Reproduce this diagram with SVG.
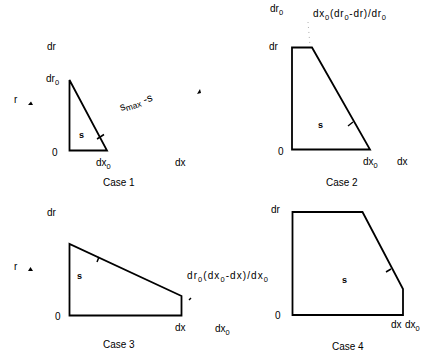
<svg xmlns="http://www.w3.org/2000/svg" width="432" height="358" viewBox="0 0 432 358">
<style>
  text { font-family: "Liberation Sans", Arial, sans-serif; font-size: 10px; fill: #000; }
  .sub { font-size: 7.5px; }
  .shape { fill: none; stroke: #000; stroke-width: 1.8; stroke-linejoin: miter; }
  .tick { stroke: #000; stroke-width: 1.5; fill: none; }
  .faint { stroke: #999; stroke-width: 0.8; stroke-dasharray: 1 4; fill: none; }
  .mark { fill: #000; }
  .s { font-size: 9px; font-weight: bold; }
</style>
<rect width="432" height="358" fill="#fff"/>

<g id="case1">
  <polygon class="shape" points="69.5,80 69.5,150.5 107,150.5"/>
  <line class="tick" x1="97" y1="139" x2="104" y2="134.5"/>
  <text x="47" y="50">dr</text>
  <text x="46" y="82">dr<tspan class="sub" dy="3">0</tspan></text>
  <text x="14" y="103">r</text>
  <polygon class="mark" points="28,105 33,105 31,101.5"/>
  <text x="52" y="156">0</text>
  <text class="s" x="79" y="138">s</text>
  <text x="96" y="166">dx<tspan class="sub" dy="3">0</tspan></text>
  <text x="175" y="166">dx</text>
  <text transform="translate(121,111) rotate(-18)" style="font-size:11px">s<tspan class="sub" style="font-size:8.5px" dy="2">max</tspan><tspan dy="-2"> -s</tspan></text>
  <polygon class="mark" points="197,94 201,93 200,89"/>
  <text x="103" y="186">Case 1</text>
</g>

<g id="case2">
  <polygon class="shape" points="292,47.5 312,47.5 370,149.5 292,149.5"/>
  <line class="faint" x1="308" y1="22" x2="310" y2="46"/>
  <line class="tick" x1="348" y1="126" x2="353" y2="122"/>
  <text x="270" y="12">dr<tspan class="sub" dy="3">0</tspan></text>
  <text x="313" y="17" textLength="73">dx<tspan class="sub" dy="3">0</tspan><tspan dy="-3">(dr</tspan><tspan class="sub" dy="3">0</tspan><tspan dy="-3">-dr)/dr</tspan><tspan class="sub" dy="3">0</tspan></text>
  <text x="269" y="50">dr</text>
  <text x="278" y="155">0</text>
  <text class="s" x="318" y="128">s</text>
  <text x="363" y="165">dx<tspan class="sub" dy="3">0</tspan></text>
  <text x="397" y="165">dx</text>
  <text x="326" y="186">Case 2</text>
</g>

<g id="case3">
  <polygon class="shape" points="69.5,244 69.5,315.5 181.5,315.5 181.5,296"/>
  <line class="tick" x1="97" y1="262" x2="99" y2="257"/>
  <line class="tick" x1="189" y1="300" x2="191" y2="298"/>
  <text x="47" y="216">dr</text>
  <text x="14" y="270">r</text>
  <polygon class="mark" points="28,271 33,271 30.5,267"/>
  <text x="55" y="320">0</text>
  <text class="s" x="77" y="279">s</text>
  <text x="187" y="279" textLength="81">dr<tspan class="sub" dy="3">0</tspan><tspan dy="-3">(dx</tspan><tspan class="sub" dy="3">0</tspan><tspan dy="-3">-dx)/dx</tspan><tspan class="sub" dy="3">0</tspan></text>
  <text x="175" y="331">dx</text>
  <text x="215" y="332">dx<tspan class="sub" dy="3">0</tspan></text>
  <text x="103" y="348">Case 3</text>
</g>

<g id="case4">
  <polygon class="shape" points="292.5,212 362.5,212 403,289 403,315 292.5,315"/>
  <line class="tick" x1="386" y1="272" x2="391" y2="269"/>
  <text x="271" y="213">dr</text>
  <text x="275" y="319">0</text>
  <text class="s" x="342" y="283">s</text>
  <text x="391" y="328">dx</text>
  <text x="405" y="328">dx<tspan class="sub" dy="3">0</tspan></text>
  <text x="332" y="350">Case 4</text>
</g>

<g id="connectors"></g>
</svg>
